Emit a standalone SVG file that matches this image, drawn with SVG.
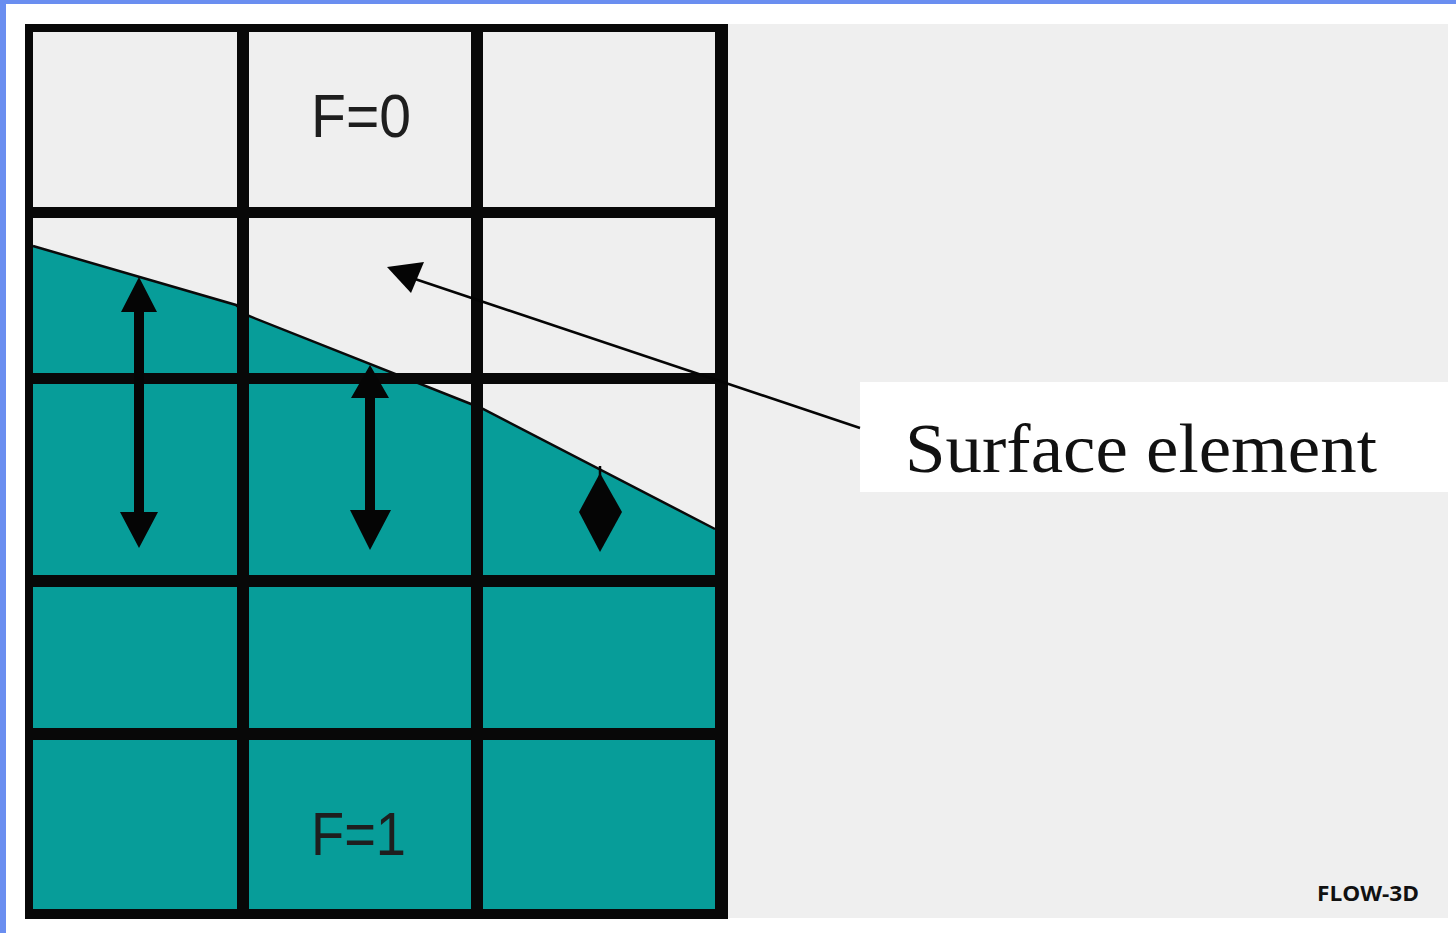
<svg xmlns="http://www.w3.org/2000/svg" width="1456" height="933" viewBox="0 0 1456 933">
  <style>
    .gl { fill: #080808; }
    .cellLabel { font-family: "Liberation Sans", Arial, sans-serif; font-size: 62px; fill: #1e1e1e; }
    .serifLabel { font-family: "Liberation Serif", "Times New Roman", serif; font-size: 70px; fill: #111; }
    .brand { font-family: "Open Sans", "Liberation Sans", sans-serif; font-size: 22px; font-weight: bold; fill: #111; }
    .arrow { fill: #050505; }
  </style>
  <!-- page background -->
  <rect x="0" y="0" width="1456" height="933" fill="#ffffff"/>
  <rect x="0" y="0" width="1456" height="4" fill="#6a8ef0"/>
  <rect x="0" y="0" width="6" height="933" fill="#6a8ef0"/>
  <rect x="25" y="24" width="1423" height="894" fill="#efefef"/>

  <g id="grid">
    <rect x="33" y="32" width="682" height="877" fill="#efefef"/>
    <polygon points="33,246 236,305 249,316 471,404 483,409 715,529 715,909 33,909" fill="#079d99"/>
    <polyline points="33,246 236,305 249,316 471,404 483,409 715,529" fill="none" stroke="#0a0a0a" stroke-width="2.5"/>
    <!-- vertical lines -->
    <rect class="gl" x="25" y="24" width="8" height="895"/>
    <rect class="gl" x="237" y="24" width="12" height="895"/>
    <rect class="gl" x="471" y="24" width="12" height="895"/>
    <rect class="gl" x="715" y="24" width="13" height="895"/>
    <!-- horizontal lines -->
    <rect class="gl" x="25" y="24" width="703" height="8"/>
    <rect class="gl" x="25" y="207" width="703" height="11"/>
    <rect class="gl" x="25" y="373" width="703" height="11"/>
    <rect class="gl" x="25" y="575" width="703" height="12"/>
    <rect class="gl" x="25" y="728" width="703" height="12"/>
    <rect class="gl" x="25" y="909" width="703" height="10"/>
  </g>

  <g id="height-arrows">
    <path class="arrow" d="M139,277 L157,312 L144,312 L144,512 L158,512 L139,548 L120,512 L134,512 L134,312 L121,312 Z"/>
    <path class="arrow" d="M370,365 L389,398 L375,398 L375,510 L391,510 L370,550 L350,510 L365,510 L365,398 L351,398 Z"/>
    <path class="arrow" d="M600,473 L622,512 L600,552 L579,512 Z"/>
    <line x1="600" y1="466" x2="600" y2="480" stroke="#050505" stroke-width="2.5"/>
  </g>

  <g id="label-F0">
    <text class="cellLabel" x="311" y="137" textLength="100" lengthAdjust="spacingAndGlyphs">F=0</text>
  </g>
  <g id="label-F1">
    <text class="cellLabel" x="311" y="855" textLength="95" lengthAdjust="spacingAndGlyphs">F=1</text>
  </g>

  <g id="surface-element">
    <rect x="860" y="382" width="588" height="110" fill="#ffffff"/>
    <text class="serifLabel" x="905" y="472" textLength="472" lengthAdjust="spacingAndGlyphs">Surface element</text>
  </g>

  <g id="connectors">
    <line x1="415" y1="279" x2="860" y2="428" stroke="#050505" stroke-width="2.5"/>
    <polygon class="arrow" points="387,267 424,262 411,293"/>
  </g>

  <g id="brand">
    <text class="brand" x="1317" y="901" textLength="102" lengthAdjust="spacingAndGlyphs">FLOW-3D</text>
  </g>
</svg>
